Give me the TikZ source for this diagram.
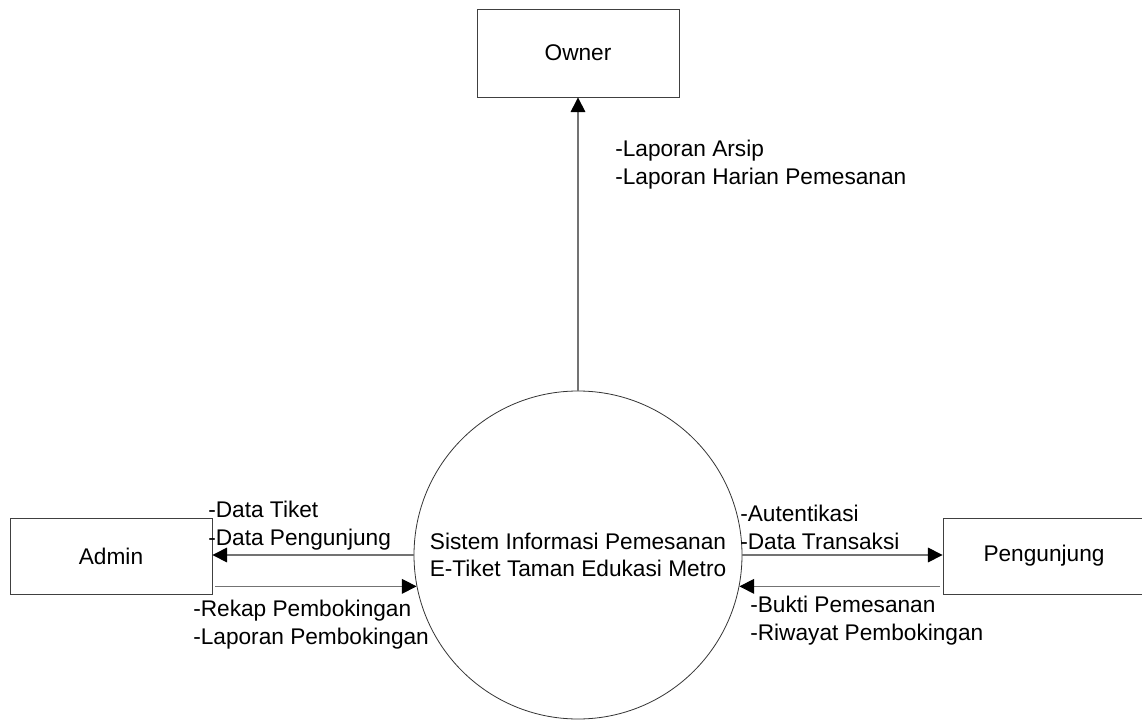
\documentclass[tikz,border=0pt]{standalone}
\usepackage{fontspec}
\setmainfont{Liberation Sans}
\usetikzlibrary{arrows.meta,positioning}
\begin{document}
\begin{tikzpicture}[x=0.75pt, y=-0.75pt,
    every node/.style={font=\fontsize{17}{20.5}\selectfont},
    entity/.style={draw=black!75, line width=0.6pt, minimum width=151.5pt, minimum height=57pt},
    process/.style={draw=black!80, line width=0.6pt, circle, minimum size=246pt, inner sep=0pt, align=center},
    flow/.style={draw=black!55, line width=0.8pt, -{Triangle[length=11pt, width=11pt, color=black]}},
    lbl/.style={anchor=north west, inner sep=0pt, align=left}]
    % Define the page size
    \useasboundingbox (0,0) rectangle (1142,720);

    % Process and external entities
    \node[process] (sys) at (578,555) {Sistem Informasi Pemesanan\\E-Tiket Taman Edukasi Metro};
    \node[entity, minimum height=66pt] (owner) at (578,53) {Owner};
    \node[entity] (admin) at (111,556) {Admin};
    \node[entity] (visitor) at (1044,556) {Pengunjung};

    % Data flows
    \draw[flow] (sys.north) -- (owner.south);
    \draw[flow] (sys.west) -- (sys.west -| admin.east);
    \draw[flow] ([xshift=2pt]sys.191 -| admin.east) -- (sys.191);
    \draw[flow] (sys.east) -- (sys.east -| visitor.west);
    \draw[flow] ([xshift=-2pt]sys.349 -| visitor.west) -- (sys.349);

    % Flow labels
    \node[lbl] (lblowner) at (615,140) {-Laporan Arsip\\-Laporan Harian Pemesanan};
    \node[lbl] (lbladminout) at (208,501) {-Data Tiket\\-Data Pengunjung};
    \node[lbl] (lbladminin) at (193,600) {-Rekap Pembokingan\\-Laporan Pembokingan};
    \node[lbl] (lblvisitorin) at (740,505) {-Autentikasi\\-Data Transaksi};
    \node[lbl] (lblvisitorout) at (750,596) {-Bukti Pemesanan\\-Riwayat Pembokingan};
\end{tikzpicture}
\end{document}
